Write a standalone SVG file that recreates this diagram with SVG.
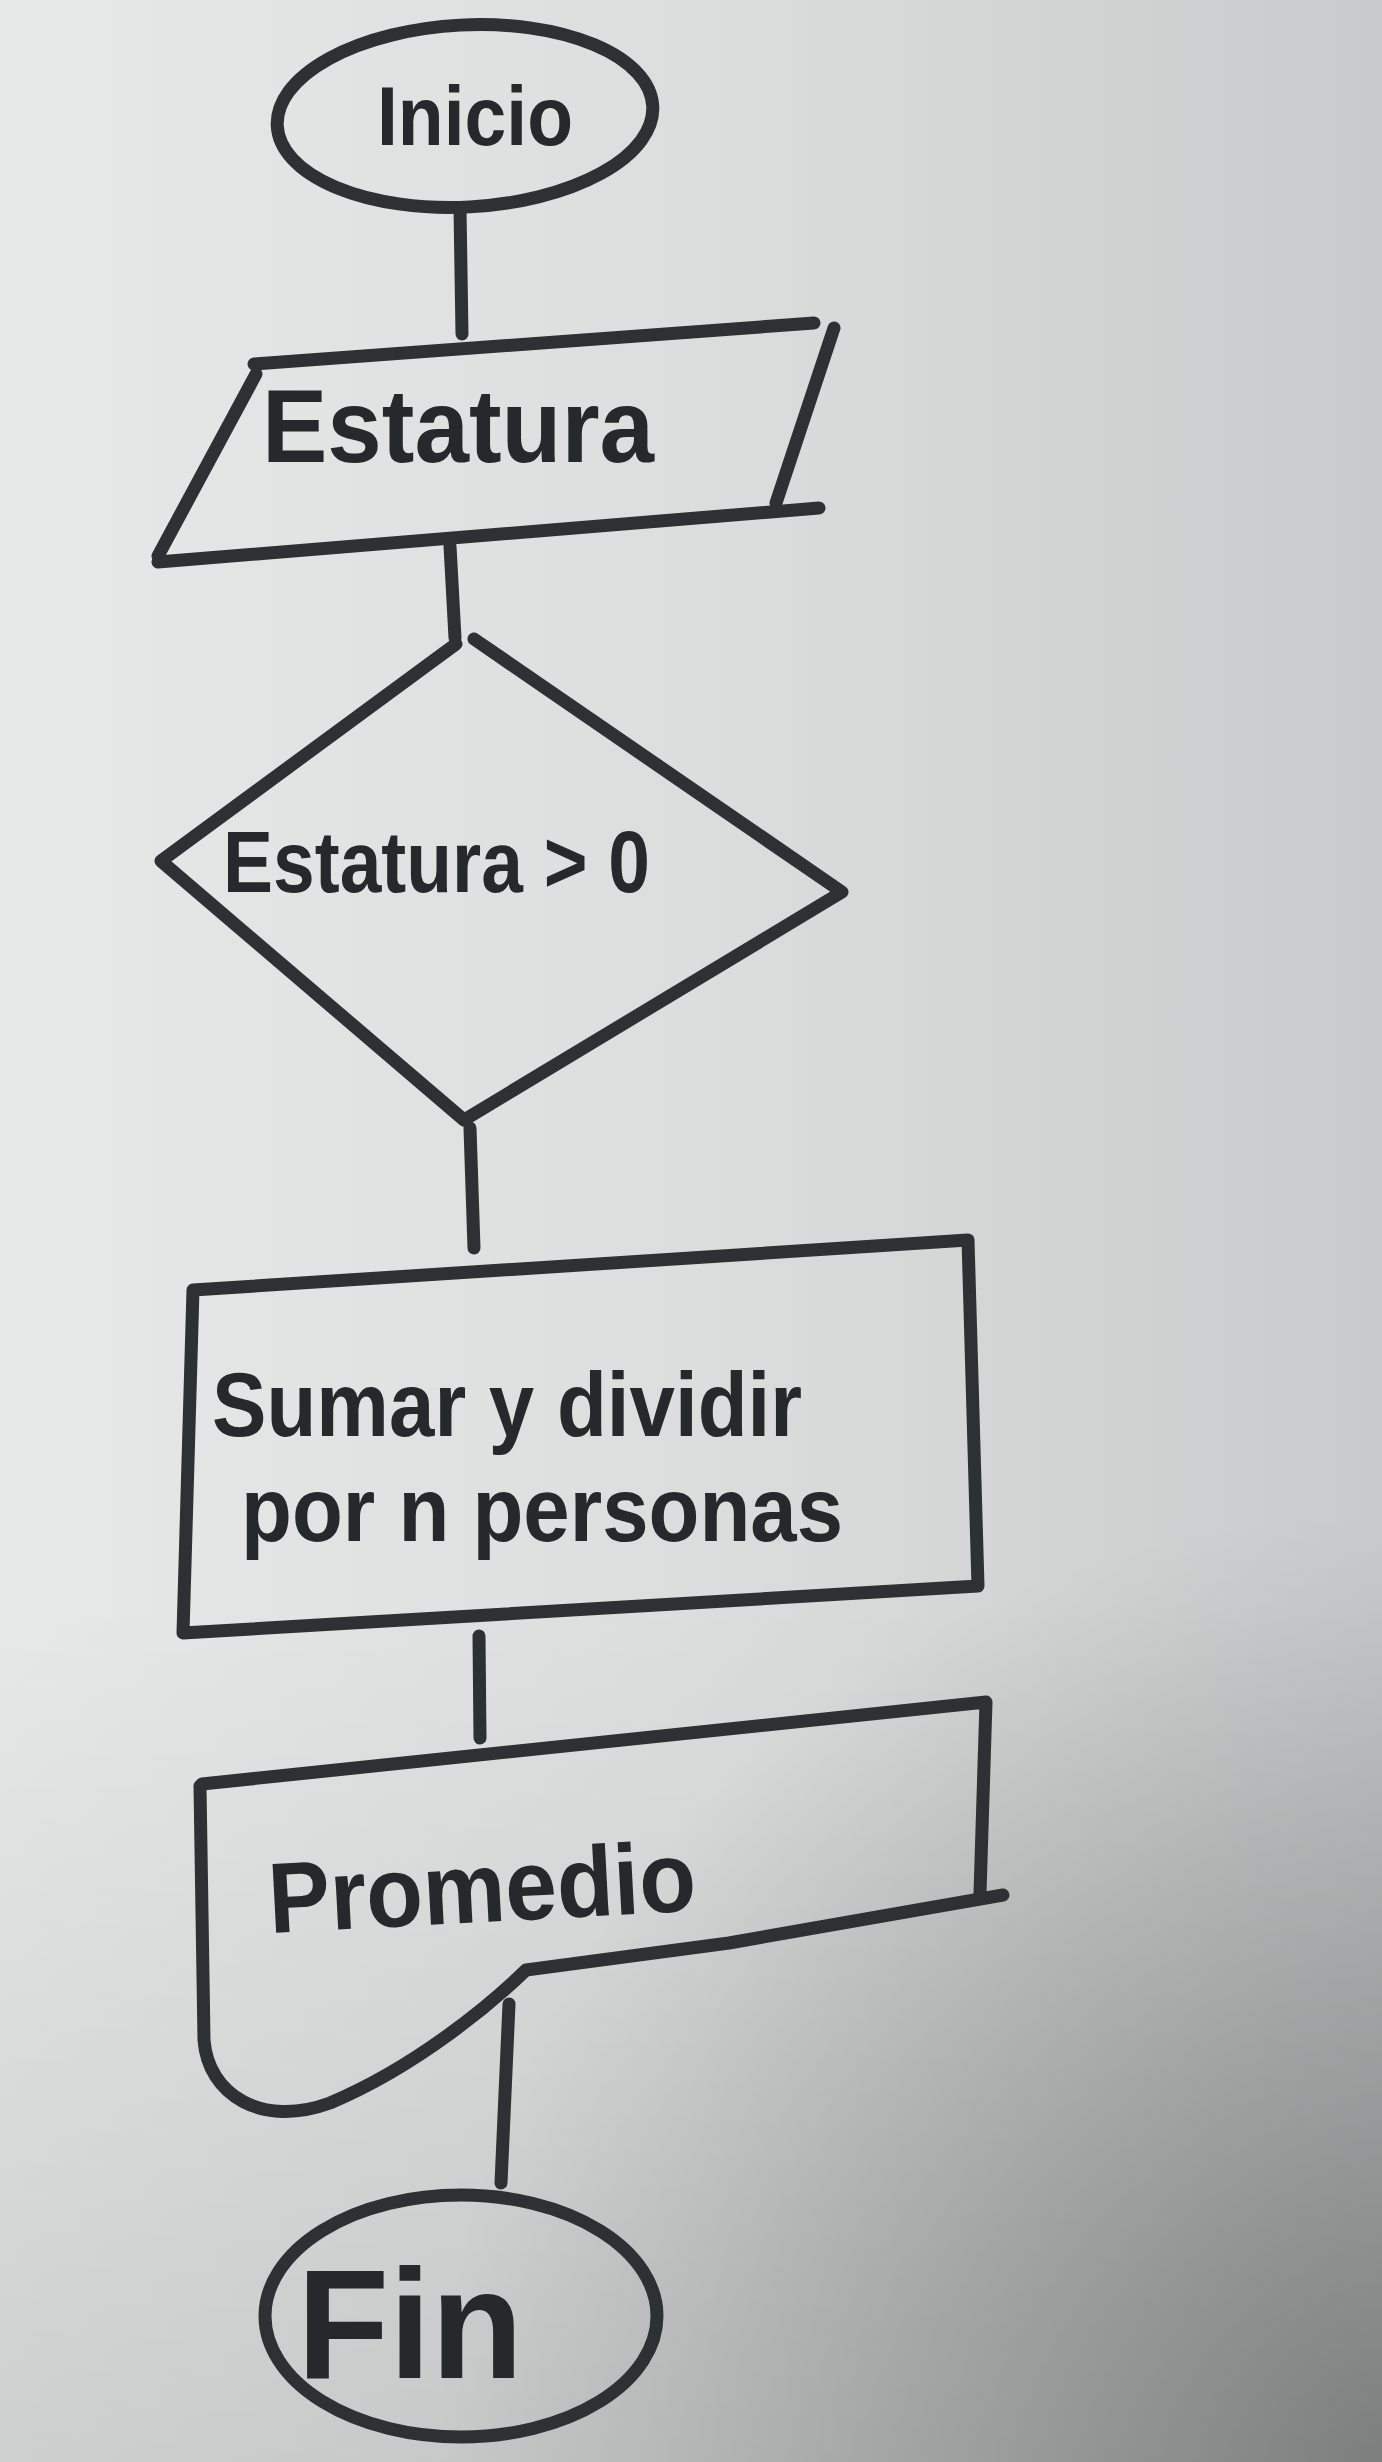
<svg xmlns="http://www.w3.org/2000/svg" width="1382" height="2462" viewBox="0 0 1382 2462">
  <defs>
    <linearGradient id="paperH" x1="0" y1="0" x2="1382" y2="0" gradientUnits="userSpaceOnUse">
      <stop offset="0" stop-color="#e7e9e8"/>
      <stop offset="0.5" stop-color="#dcdedd"/>
      <stop offset="1" stop-color="#c8cbcb"/>
    </linearGradient>
    <linearGradient id="paperV" x1="0" y1="1600" x2="0" y2="2462" gradientUnits="userSpaceOnUse">
      <stop offset="0" stop-color="#000" stop-opacity="0"/>
      <stop offset="1" stop-color="#000" stop-opacity="0.11"/>
    </linearGradient>
    <radialGradient id="shade" cx="1382" cy="2462" r="950" gradientUnits="userSpaceOnUse">
      <stop offset="0" stop-color="#000" stop-opacity="0.3"/>
      <stop offset="1" stop-color="#000" stop-opacity="0"/>
    </radialGradient>
    <style>
      .ink { fill: none; stroke: #2e3133; stroke-width: 13; stroke-linecap: round; stroke-linejoin: round; }
      .lbl { font-family: "Liberation Sans", Arial, sans-serif; fill: #26292b; font-weight: bold; }
    </style>
  </defs>

  <rect x="0" y="0" width="1382" height="2462" fill="url(#paperH)"/>
  <rect x="0" y="0" width="1382" height="2462" fill="url(#paperV)"/>
  <rect x="0" y="0" width="1382" height="2462" fill="url(#shade)"/>

  <g id="connectors">
    <path class="ink" d="M460,209 L462,334"/>
    <path class="ink" d="M450,546 L455,638"/>
    <path class="ink" d="M470,1128 L474,1248"/>
    <path class="ink" d="M479,1636 L480,1738"/>
    <path class="ink" d="M509,2004 L501,2183"/>
  </g>

  <g id="inicio">
    <ellipse class="ink" cx="465" cy="116" rx="188" ry="91" transform="rotate(-3 465 116)"/>
    <text class="lbl" x="377" y="145" font-size="84" textLength="196" lengthAdjust="spacingAndGlyphs">Inicio</text>
  </g>

  <g id="estatura">
    <path class="ink" d="M254,364 L814,323"/>
    <path class="ink" d="M834,328 L776,503"/>
    <path class="ink" d="M158,562 L819,508"/>
    <path class="ink" d="M256,374 L158,556"/>
    <text class="lbl" x="262" y="462" font-size="104" textLength="392" lengthAdjust="spacingAndGlyphs">Estatura</text>
  </g>

  <g id="decision">
    <path class="ink" d="M456,644 L161,861 L464,1120 L842,892 L474,639"/>
    <text class="lbl" x="223" y="892" font-size="88" textLength="427" lengthAdjust="spacingAndGlyphs">Estatura &gt; 0</text>
  </g>

  <g id="proceso">
    <path class="ink" d="M193,1290 L968,1240 L978,1586 L183,1633 Z"/>
    <text class="lbl" x="212" y="1436" font-size="90" textLength="590" lengthAdjust="spacingAndGlyphs">Sumar y dividir</text>
    <text class="lbl" x="241" y="1541" font-size="90" textLength="602" lengthAdjust="spacingAndGlyphs">por n personas</text>
  </g>

  <g id="promedio">
    <path class="ink" d="M202,1784 L986,1702 L980,1893"/>
    <path class="ink" d="M1003,1895 L729,1943 L526,1970 C495,2000 420,2065 330,2103 C262,2128 208,2095 204,2040 L200,1786"/>
    <text class="lbl" x="268" y="1922" font-size="100" textLength="428" lengthAdjust="spacingAndGlyphs" transform="rotate(-3 480 1890)">Promedio</text>
  </g>

  <g id="fin">
    <ellipse class="ink" cx="461" cy="2316" rx="196" ry="121"/>
    <text class="lbl" x="297" y="2378" font-size="155" textLength="226" lengthAdjust="spacingAndGlyphs">Fin</text>
  </g>
</svg>
